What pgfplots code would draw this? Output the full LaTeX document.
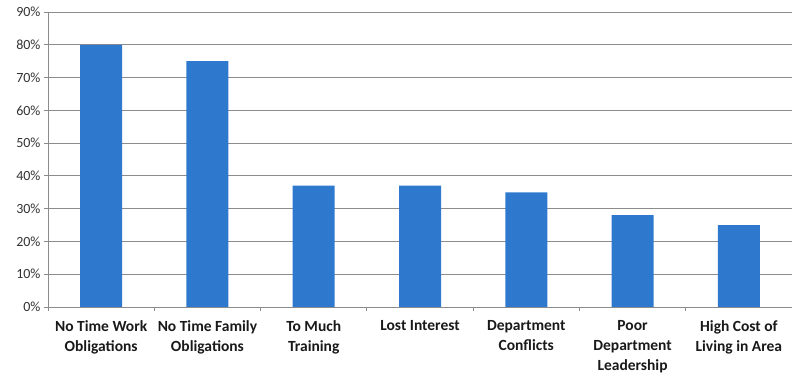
\documentclass[border=0pt]{standalone}
\usepackage{fontspec}
\setmainfont{Carlito}
\usepackage{pgfplots}
\pgfplotsset{compat=1.18}
\definecolor{barblue}{RGB}{46,121,206}
\definecolor{gridgray}{RGB}{140,140,140}
\begin{document}
\begin{tikzpicture}
\begin{axis}[
  name=ax,
  scale only axis,
  width=744bp, height=295bp,
  xmin=-0.5, xmax=6.5,
  ymin=0, ymax=90,
  ytick={0,10,...,90},
  yticklabel={\pgfmathprintnumber{\tick}\%},
  /pgf/number format/assume math mode=true,
  ymajorgrids,
  grid style={gridgray, line width=0.8pt},
  axis x line*=bottom,
  axis y line*=left,
  axis line style={gridgray, line width=0.8pt, -},
  xtick={0,...,6},
  xticklabels={No Time Work\\Obligations, No Time Family\\Obligations, To Much\\Training, Lost Interest, Department\\Conflicts, Poor\\Department\\Leadership, High Cost of\\Living in Area},
  minor xtick={-0.5,0.5,...,6.5},
  major x tick style={draw=none},
  minor x tick style={gridgray, line width=0.8pt},
  y tick style={gridgray, line width=0.8pt},
  tick align=outside,
  major tick length=4bp,
  minor tick length=4bp,
  xticklabel style={align=center, anchor=north, font=\fontsize{15.5bp}{20bp}\selectfont\bfseries, text=black!90, yshift=-6bp},
  yticklabel style={font=\fontsize{14bp}{16bp}\selectfont, text=black!80},
  clip=false,
]
\addplot[ybar, bar width=42bp, fill=barblue, draw=none] coordinates {
  (0,80) (1,75) (2,37) (3,37) (4,35) (5,28) (6,25)
};
\end{axis}
\pgfresetboundingbox
\path[use as bounding box] ([shift={(-48bp,-72bp)}]ax.south west) rectangle ([shift={(0bp,12bp)}]ax.north east);
\end{tikzpicture}
\end{document}
